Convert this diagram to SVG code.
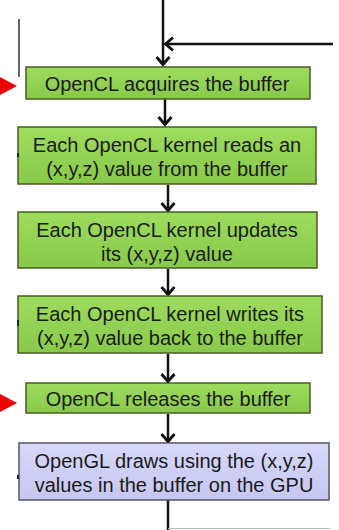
<svg xmlns="http://www.w3.org/2000/svg" width="339" height="530" viewBox="0 0 339 530">
<style>
.g{fill:url(#gg);stroke:#4a5d23;stroke-width:1.5}
.p{fill:url(#pg);stroke:#555566;stroke-width:1.5}
.t{font-family:"Liberation Sans",Arial,sans-serif;font-size:20px;fill:#1a1a1a;text-anchor:middle}
.c{stroke:#111;stroke-width:2.5;fill:none}
</style>
<defs>
<linearGradient id="gg" x1="0" y1="0" x2="0" y2="1">
<stop offset="0" stop-color="#9edc5e"/>
<stop offset="1" stop-color="#88c94a"/>
</linearGradient>
<linearGradient id="pg" x1="0" y1="0" x2="0" y2="1">
<stop offset="0" stop-color="#d8d8fb"/>
<stop offset="1" stop-color="#c6c6f0"/>
</linearGradient>
<marker id="a" markerWidth="16" markerHeight="16" refX="11" refY="8" orient="auto" markerUnits="userSpaceOnUse">
<path d="M3,1.5 L10.5,8 L3,14.5" fill="none" stroke="#111" stroke-width="2.8"/>
</marker>
</defs>
<g id="connectors">
<line class="c" x1="163" y1="0" x2="163" y2="65" marker-end="url(#a)"/>
<line class="c" x1="333" y1="44" x2="165" y2="44" marker-end="url(#a)"/>
<line class="c" x1="165" y1="99" x2="165" y2="125" marker-end="url(#a)"/>
<line class="c" x1="168" y1="185" x2="168" y2="211" marker-end="url(#a)"/>
<line class="c" x1="168" y1="269" x2="168" y2="295" marker-end="url(#a)"/>
<line class="c" x1="168" y1="354" x2="168" y2="382" marker-end="url(#a)"/>
<line class="c" x1="168" y1="414" x2="168" y2="442" marker-end="url(#a)"/>
<line class="c" x1="168" y1="500" x2="168" y2="530"/>
<line x1="168" y1="528.5" x2="330" y2="528.5" stroke="#bbb" stroke-width="1"/>
<line x1="19" y1="19" x2="19" y2="77" stroke="#333" stroke-width="1.5"/>
</g>
<g id="markers">
<polygon points="0,77 17,86 0,95" fill="#ee0000"/>
<polygon points="0,394 17,403 0,412" fill="#ee0000"/>
</g>
<g id="n1">
<rect x="26" y="67" width="284" height="32" class="g"/>
<text class="t" x="167" y="91">OpenCL acquires the buffer</text>
</g>
<g id="n2">
<rect x="18" y="127" width="298" height="57" class="g"/>
<rect x="17" y="153" width="2" height="4" fill="#222"/>
<text class="t" x="167" y="152">Each OpenCL kernel reads an</text>
<text class="t" x="167" y="176">(x,y,z) value from the buffer</text>
</g>
<g id="n3">
<rect x="18" y="212" width="299" height="56" class="g"/>
<text class="t" x="167" y="237">Each OpenCL kernel updates</text>
<text class="t" x="167" y="261">its (x,y,z) value</text>
</g>
<g id="n4">
<rect x="18" y="296" width="304" height="57" class="g"/>
<rect x="17" y="320" width="2" height="6" fill="#222"/>
<text class="t" x="170" y="321">Each OpenCL kernel writes its</text>
<text class="t" x="170" y="345">(x,y,z) value back to the buffer</text>
</g>
<g id="n5">
<rect x="26" y="383" width="284" height="30" class="g"/>
<text class="t" x="168" y="406">OpenCL releases the buffer</text>
</g>
<g id="n6">
<rect x="19" y="443" width="310" height="57" class="p"/>
<rect x="17" y="475" width="2" height="4" fill="#222"/>
<text class="t" x="174" y="468">OpenGL draws using the (x,y,z)</text>
<text class="t" x="174" y="492">values in the buffer on the GPU</text>
</g>
</svg>
